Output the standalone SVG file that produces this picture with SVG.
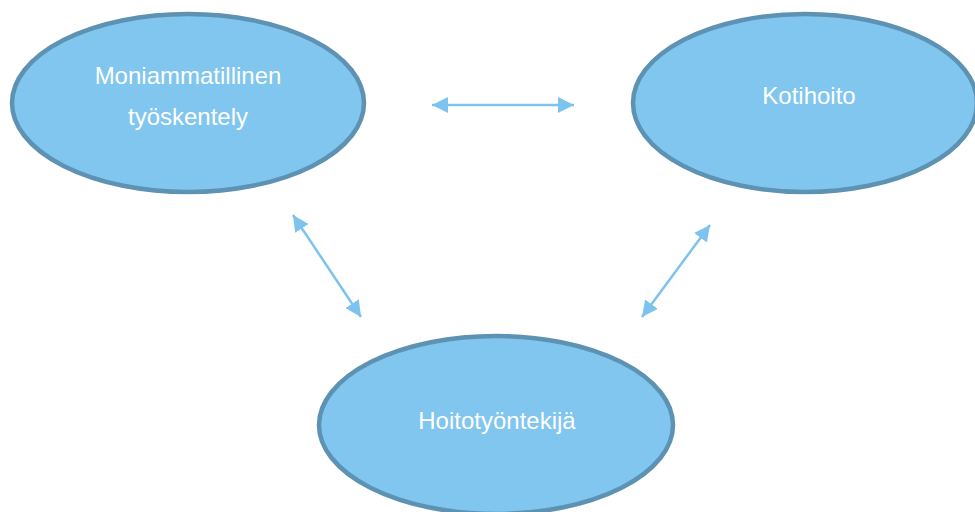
<svg xmlns="http://www.w3.org/2000/svg" width="975" height="512" viewBox="0 0 975 512">
<style>
.node{fill:#80c6ef;stroke:#5d92b3;stroke-width:4.5}
.lbl{font-family:"Liberation Sans",Arial,sans-serif;font-size:24px;fill:#ffffff;text-anchor:middle}
.conn{stroke:#7cc3ee;stroke-width:2.5;fill:none;marker-start:url(#ah);marker-end:url(#ah)}
</style>
<defs>
<marker id="ah" markerUnits="userSpaceOnUse" markerWidth="17" markerHeight="17" refX="16" refY="8" orient="auto-start-reverse" viewBox="0 0 17 17">
<path d="M0,0 L16,8 L0,16 z" fill="#7cc3ee"/>
</marker>
</defs>
<rect width="975" height="512" fill="#ffffff"/>
<g id="connectors">
<line class="conn" x1="432" y1="105" x2="574" y2="105"/>
<line class="conn" x1="293" y1="215" x2="361" y2="317"/>
<line class="conn" x1="710" y1="225" x2="642" y2="317"/>
</g>
<g id="node-moniammatillinen">
<ellipse class="node" cx="188" cy="103" rx="176" ry="89"/>
<text class="lbl" x="188" y="84">Moniammatillinen</text>
<text class="lbl" x="188" y="125">työskentely</text>
</g>
<g id="node-kotihoito">
<ellipse class="node" cx="805" cy="103" rx="172" ry="89"/>
<text class="lbl" x="809" y="104">Kotihoito</text>
</g>
<g id="node-hoitotyontekija">
<ellipse class="node" cx="496" cy="425" rx="177" ry="89"/>
<text class="lbl" x="497" y="429">Hoitotyöntekijä</text>
</g>
</svg>
